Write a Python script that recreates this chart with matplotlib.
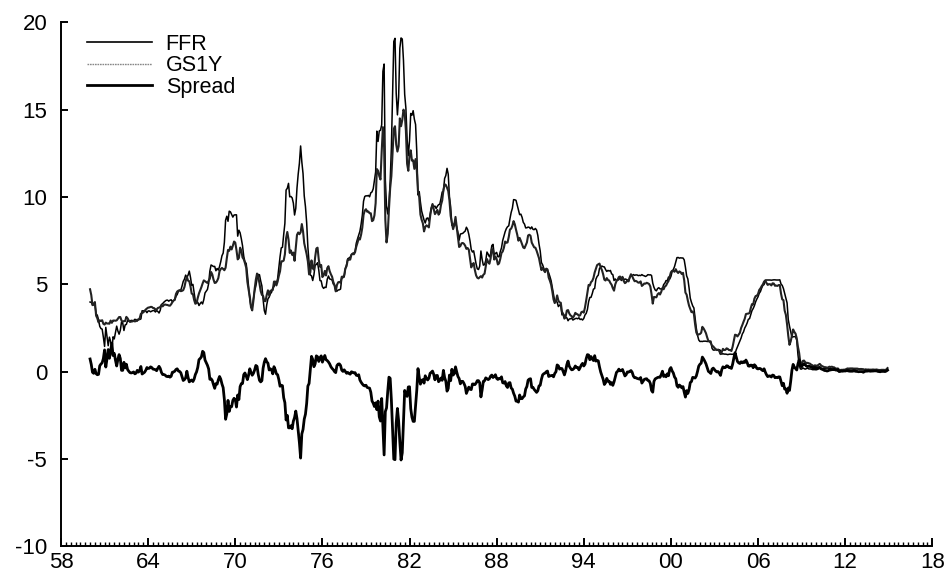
import numpy as np
import matplotlib
matplotlib.use('Agg')
import matplotlib.pyplot as plt
from matplotlib.lines import Line2D
from matplotlib.ticker import MultipleLocator

plt.rcParams['font.family'] = ['Liberation Sans', 'DejaVu Sans']
plt.rcParams['axes.unicode_minus'] = False

# monthly data, 1960:01 - 2014:12 (one row per year)
ffr = [
    3.99, 3.97, 3.84, 3.92, 3.85, 3.32, 3.23, 2.98, 2.60, 2.47, 2.44, 1.98,
    1.45, 2.54, 2.02, 1.49, 1.98, 1.73, 1.17, 2.00, 1.88, 2.26, 2.61, 2.33,
    2.15, 2.37, 2.85, 2.78, 2.36, 2.68, 2.71, 2.93, 2.90, 2.90, 2.94, 2.93,
    2.92, 3.00, 2.98, 2.90, 3.00, 2.99, 3.02, 3.49, 3.48, 3.50, 3.48, 3.38,
    3.48, 3.48, 3.43, 3.47, 3.50, 3.50, 3.42, 3.50, 3.45, 3.36, 3.52, 3.85,
    3.90, 3.98, 4.04, 4.09, 4.10, 4.04, 4.09, 4.12, 4.01, 4.08, 4.10, 4.32,
    4.42, 4.60, 4.65, 4.67, 4.90, 5.17, 5.30, 5.53, 5.40, 5.53, 5.76, 5.40,
    4.94, 5.00, 4.53, 4.05, 3.94, 3.98, 3.79, 3.90, 3.99, 3.88, 4.13, 4.51,
    4.61, 4.71, 5.05, 5.76, 6.11, 6.07, 6.02, 6.03, 5.78, 5.91, 5.82, 6.02,
    6.30, 6.64, 6.79, 7.41, 8.67, 8.90, 8.61, 9.19, 9.15, 9.00, 8.85, 8.97,
    8.98, 8.98, 7.76, 8.10, 7.95, 7.61, 7.21, 6.61, 6.29, 6.20, 5.60, 4.90,
    4.14, 3.72, 3.71, 4.16, 4.63, 4.91, 5.31, 5.57, 5.55, 5.20, 4.91, 4.14,
    3.50, 3.29, 3.83, 4.17, 4.27, 4.46, 4.55, 4.80, 4.87, 5.04, 5.06, 5.33,
    5.94, 6.58, 7.09, 7.12, 7.84, 8.49, 10.40, 10.50, 10.78, 10.01, 10.03, 9.95,
    9.65, 8.97, 9.35, 10.51, 11.31, 11.93, 12.92, 12.01, 11.34, 10.06, 9.45, 8.53,
    7.13, 6.24, 5.54, 5.49, 5.22, 5.55, 6.10, 6.14, 6.24, 5.82, 5.22, 5.20,
    4.87, 4.77, 4.84, 4.82, 5.29, 5.48, 5.31, 5.29, 5.25, 5.02, 4.95, 4.65,
    4.61, 4.68, 4.69, 4.73, 5.35, 5.39, 5.42, 5.90, 6.14, 6.47, 6.51, 6.56,
    6.70, 6.78, 6.79, 6.89, 7.36, 7.60, 7.81, 8.04, 8.45, 8.96, 9.76, 10.03,
    10.07, 10.06, 10.09, 10.01, 10.24, 10.29, 10.47, 10.94, 11.43, 13.77, 13.18, 13.78,
    13.82, 14.13, 17.19, 17.61, 10.98, 9.47, 9.03, 9.61, 10.87, 12.81, 15.85, 18.90,
    19.08, 15.93, 14.70, 15.72, 18.52, 19.10, 19.04, 17.82, 15.87, 15.08, 13.31, 12.37,
    13.22, 14.78, 14.68, 14.94, 14.45, 14.15, 12.59, 10.12, 10.31, 9.71, 9.20, 8.95,
    8.68, 8.51, 8.77, 8.80, 8.63, 8.98, 9.37, 9.56, 9.45, 9.48, 9.34, 9.47,
    9.56, 9.59, 9.91, 10.29, 10.32, 11.06, 11.23, 11.64, 11.30, 9.99, 9.43, 8.38,
    8.35, 8.50, 8.58, 8.27, 7.97, 7.53, 7.88, 7.90, 7.92, 7.99, 8.05, 8.27,
    8.14, 7.86, 7.48, 6.99, 6.85, 6.92, 6.56, 6.17, 5.89, 5.85, 6.04, 6.91,
    6.43, 6.10, 6.13, 6.37, 6.85, 6.73, 6.58, 6.73, 7.22, 7.29, 6.69, 6.77,
    6.83, 6.58, 6.58, 6.87, 7.09, 7.51, 7.75, 8.01, 8.19, 8.30, 8.35, 8.76,
    9.12, 9.36, 9.85, 9.84, 9.81, 9.53, 9.24, 8.99, 9.02, 8.84, 8.55, 8.45,
    8.23, 8.24, 8.28, 8.26, 8.18, 8.29, 8.15, 8.13, 8.20, 8.11, 7.81, 7.31,
    6.91, 6.25, 6.12, 5.91, 5.78, 5.90, 5.82, 5.66, 5.45, 5.21, 4.81, 4.43,
    4.03, 4.06, 3.98, 3.73, 3.82, 3.76, 3.25, 3.30, 3.22, 3.10, 3.09, 2.92,
    3.02, 3.03, 3.07, 2.96, 3.00, 3.04, 3.06, 3.03, 3.09, 2.99, 3.02, 2.96,
    3.05, 3.25, 3.34, 3.56, 4.01, 4.25, 4.26, 4.47, 4.73, 4.76, 5.29, 5.45,
    5.53, 5.92, 5.98, 6.05, 6.01, 6.00, 5.85, 5.74, 5.80, 5.76, 5.80, 5.60,
    5.56, 5.22, 5.31, 5.22, 5.24, 5.27, 5.40, 5.22, 5.30, 5.24, 5.31, 5.29,
    5.25, 5.19, 5.39, 5.51, 5.50, 5.56, 5.52, 5.54, 5.54, 5.50, 5.52, 5.50,
    5.56, 5.51, 5.49, 5.45, 5.49, 5.56, 5.54, 5.55, 5.51, 5.07, 4.83, 4.68,
    4.63, 4.76, 4.81, 4.74, 4.74, 4.76, 4.99, 5.07, 5.22, 5.20, 5.42, 5.30,
    5.45, 5.73, 5.85, 6.02, 6.27, 6.53, 6.54, 6.50, 6.52, 6.51, 6.51, 6.40,
    5.98, 5.49, 5.31, 4.80, 4.21, 3.97, 3.77, 3.65, 3.07, 2.49, 2.09, 1.82,
    1.73, 1.74, 1.73, 1.75, 1.75, 1.75, 1.73, 1.74, 1.75, 1.75, 1.34, 1.24,
    1.24, 1.26, 1.25, 1.26, 1.26, 1.22, 1.01, 1.03, 1.01, 1.01, 1.00, 0.98,
    1.00, 1.01, 1.00, 1.00, 1.00, 1.03, 1.26, 1.43, 1.61, 1.76, 1.93, 2.16,
    2.28, 2.50, 2.63, 2.79, 3.00, 3.04, 3.26, 3.50, 3.62, 3.78, 4.00, 4.16,
    4.29, 4.49, 4.59, 4.79, 4.94, 4.99, 5.24, 5.25, 5.25, 5.25, 5.25, 5.24,
    5.25, 5.26, 5.26, 5.25, 5.25, 5.25, 5.26, 5.02, 4.94, 4.76, 4.49, 4.24,
    3.94, 2.98, 2.61, 2.28, 1.98, 2.00, 2.01, 2.00, 1.81, 0.97, 0.39, 0.16,
    0.15, 0.22, 0.18, 0.15, 0.18, 0.21, 0.16, 0.16, 0.15, 0.12, 0.12, 0.12,
    0.11, 0.13, 0.16, 0.20, 0.20, 0.18, 0.18, 0.19, 0.19, 0.19, 0.19, 0.18,
    0.17, 0.16, 0.14, 0.10, 0.09, 0.09, 0.07, 0.10, 0.08, 0.07, 0.08, 0.07,
    0.08, 0.10, 0.13, 0.14, 0.16, 0.16, 0.16, 0.13, 0.14, 0.16, 0.16, 0.16,
    0.14, 0.15, 0.14, 0.15, 0.11, 0.09, 0.09, 0.08, 0.08, 0.09, 0.08, 0.09,
    0.07, 0.07, 0.08, 0.09, 0.09, 0.10, 0.09, 0.09, 0.09, 0.09, 0.09, 0.12,
]

gs1y = [
    4.72, 4.39, 3.81, 3.83, 3.99, 3.21, 3.06, 2.83, 2.94, 2.91, 2.95, 2.74,
    2.70, 2.81, 2.76, 2.76, 2.75, 2.93, 2.80, 2.93, 2.93, 2.92, 2.94, 3.04,
    3.13, 3.13, 2.93, 2.86, 2.90, 2.90, 3.14, 3.06, 2.93, 2.85, 2.87, 2.88,
    2.91, 2.88, 2.90, 2.98, 2.98, 3.06, 3.32, 3.36, 3.40, 3.47, 3.56, 3.62,
    3.67, 3.68, 3.71, 3.71, 3.65, 3.64, 3.54, 3.56, 3.65, 3.67, 3.71, 3.81,
    3.74, 3.82, 3.85, 3.83, 3.82, 3.79, 3.78, 3.86, 3.98, 4.07, 4.13, 4.45,
    4.59, 4.64, 4.67, 4.61, 4.63, 4.67, 4.85, 5.18, 5.43, 5.21, 5.18, 4.88,
    4.47, 4.44, 4.11, 3.89, 3.93, 4.23, 4.48, 4.66, 4.84, 5.05, 5.23, 5.18,
    5.13, 5.08, 5.21, 5.33, 5.71, 5.57, 5.28, 5.08, 5.10, 5.20, 5.36, 5.75,
    5.88, 5.94, 5.88, 5.81, 5.95, 6.49, 6.97, 6.92, 7.16, 7.00, 7.21, 7.45,
    7.39, 6.96, 6.43, 6.51, 7.10, 6.93, 6.54, 6.44, 6.22, 5.96, 5.15, 4.70,
    4.31, 3.69, 3.51, 4.07, 4.73, 5.27, 5.62, 5.41, 5.06, 4.62, 4.40, 4.34,
    4.05, 4.04, 4.40, 4.66, 4.37, 4.63, 4.66, 4.68, 5.16, 5.16, 4.94, 5.16,
    5.49, 5.75, 6.32, 6.32, 6.36, 6.72, 7.64, 8.00, 7.57, 6.80, 6.94, 6.69,
    6.82, 6.35, 7.10, 7.83, 7.97, 7.87, 7.98, 8.45, 8.04, 7.35, 7.02, 6.72,
    6.31, 5.57, 5.68, 6.37, 5.93, 5.84, 6.55, 7.05, 7.10, 6.41, 6.01, 6.11,
    5.42, 5.51, 5.77, 5.51, 5.93, 6.04, 5.76, 5.58, 5.44, 5.14, 4.96, 4.60,
    4.96, 5.12, 5.14, 5.09, 5.44, 5.41, 5.53, 5.91, 6.05, 6.43, 6.41, 6.42,
    6.70, 6.75, 6.72, 6.84, 7.16, 7.38, 7.64, 7.57, 7.85, 8.26, 8.98, 9.22,
    9.30, 9.16, 9.17, 9.07, 9.07, 8.62, 8.67, 8.95, 9.65, 11.60, 11.50, 11.20,
    11.00, 12.60, 14.00, 12.85, 8.70, 7.40, 7.90, 9.30, 10.50, 11.20, 12.50, 13.90,
    14.05, 13.00, 12.60, 12.90, 14.50, 14.05, 14.40, 15.00, 14.80, 13.80, 11.90, 11.50,
    12.36, 12.67, 12.08, 12.10, 11.61, 12.17, 11.54, 10.30, 10.00, 9.00, 8.70, 8.50,
    8.03, 8.28, 8.38, 8.33, 8.26, 8.89, 9.34, 9.60, 9.30, 9.02, 9.12, 9.26,
    8.99, 9.10, 9.55, 9.80, 10.40, 10.73, 10.69, 10.53, 10.34, 9.80, 8.92, 8.52,
    8.16, 8.39, 8.86, 8.26, 7.70, 7.14, 7.19, 7.35, 7.37, 7.32, 7.21, 7.03,
    7.08, 6.98, 6.48, 5.97, 6.15, 6.22, 5.82, 5.52, 5.38, 5.34, 5.41, 5.47,
    5.39, 5.55, 5.61, 6.02, 6.45, 6.28, 6.18, 6.48, 7.03, 6.96, 6.42, 6.60,
    6.45, 6.14, 6.20, 6.46, 6.80, 6.88, 7.10, 7.45, 7.38, 7.40, 7.71, 8.14,
    8.19, 8.36, 8.62, 8.44, 8.13, 7.85, 7.50, 7.66, 7.49, 7.30, 7.11, 7.07,
    7.24, 7.40, 7.80, 7.84, 7.78, 7.39, 7.26, 7.12, 7.10, 6.93, 6.72, 6.50,
    6.14, 5.82, 5.94, 5.80, 5.70, 5.90, 5.86, 5.39, 5.21, 4.99, 4.60, 4.14,
    3.93, 4.06, 4.37, 4.07, 3.97, 3.95, 3.43, 3.31, 3.04, 3.15, 3.50, 3.53,
    3.34, 3.23, 3.18, 3.09, 3.20, 3.37, 3.31, 3.28, 3.20, 3.23, 3.41, 3.44,
    3.38, 3.68, 4.09, 4.54, 4.97, 4.94, 5.13, 5.20, 5.37, 5.68, 5.90, 6.10,
    6.15, 6.19, 5.96, 5.82, 5.58, 5.27, 5.22, 5.36, 5.25, 5.22, 5.08, 4.98,
    4.78, 4.64, 5.00, 5.18, 5.27, 5.42, 5.45, 5.29, 5.43, 5.19, 5.07, 5.12,
    5.24, 5.17, 5.41, 5.58, 5.47, 5.31, 5.18, 5.20, 5.16, 5.10, 5.10, 5.17,
    4.91, 4.97, 5.05, 5.04, 5.09, 5.06, 5.02, 4.88, 4.44, 3.90, 4.28, 4.27,
    4.26, 4.43, 4.50, 4.42, 4.57, 4.79, 4.72, 4.88, 4.93, 5.08, 5.19, 5.44,
    5.69, 5.78, 5.78, 5.72, 5.87, 5.73, 5.65, 5.74, 5.70, 5.59, 5.66, 5.23,
    4.53, 4.41, 4.07, 3.78, 3.59, 3.41, 3.45, 3.31, 2.71, 2.25, 2.11, 2.14,
    2.16, 2.23, 2.57, 2.48, 2.35, 2.20, 1.96, 1.76, 1.72, 1.65, 1.49, 1.45,
    1.36, 1.30, 1.24, 1.27, 1.18, 1.01, 1.12, 1.31, 1.24, 1.25, 1.34, 1.31,
    1.24, 1.24, 1.19, 1.43, 1.78, 2.12, 2.10, 2.02, 2.12, 2.23, 2.50, 2.67,
    2.86, 3.03, 3.30, 3.32, 3.33, 3.36, 3.64, 3.87, 3.85, 4.18, 4.33, 4.35,
    4.45, 4.68, 4.77, 4.90, 5.00, 5.16, 5.22, 5.08, 4.97, 5.01, 5.01, 4.94,
    5.06, 5.05, 4.92, 4.93, 4.91, 4.96, 4.96, 4.47, 4.14, 4.10, 3.50, 3.26,
    2.71, 2.05, 1.54, 1.74, 2.06, 2.42, 2.28, 2.18, 1.91, 1.42, 1.07, 0.49,
    0.44, 0.62, 0.64, 0.55, 0.50, 0.51, 0.48, 0.46, 0.40, 0.37, 0.31, 0.37,
    0.35, 0.35, 0.40, 0.45, 0.37, 0.32, 0.29, 0.26, 0.26, 0.23, 0.25, 0.29,
    0.27, 0.29, 0.26, 0.25, 0.19, 0.18, 0.19, 0.11, 0.10, 0.11, 0.11, 0.12,
    0.12, 0.16, 0.19, 0.18, 0.19, 0.19, 0.19, 0.18, 0.18, 0.18, 0.18, 0.16,
    0.15, 0.16, 0.15, 0.12, 0.12, 0.14, 0.12, 0.13, 0.12, 0.12, 0.12, 0.13,
    0.12, 0.12, 0.13, 0.11, 0.10, 0.10, 0.11, 0.11, 0.11, 0.10, 0.13, 0.21,
]

x_ticks = [1958, 1964, 1970, 1976, 1982, 1988, 1994, 2000, 2006, 2012, 2018]
x_labels = ['58', '64', '70', '76', '82', '88', '94', '00', '06', '12', '18']

ffr = np.array(ffr)
gs1y = np.array(gs1y)
spread = gs1y - ffr
t = 1960 + np.arange(len(ffr)) / 12.0

fig = plt.figure(figsize=(9.46, 5.78), dpi=100)
ax = fig.add_axes([0.0645, 0.0545, 0.921, 0.907])

ax.plot(t, ffr, color='black', lw=1.1)
ax.plot(t, gs1y, color='#222222', lw=1.5)
ax.plot(t, spread, color='black', lw=2.0)

ax.set_xlim(1958, 2018)
ax.set_ylim(-10, 20)
ax.set_xticks(x_ticks)
ax.set_xticklabels(x_labels)
ax.xaxis.set_minor_locator(MultipleLocator(1 / 3))
ax.set_yticks([-10, -5, 0, 5, 10, 15, 20])

for s in ['top', 'right']:
    ax.spines[s].set_visible(False)
for s in ['left', 'bottom']:
    ax.spines[s].set_linewidth(1.4)

ax.tick_params(axis='both', which='major', direction='in', labelsize=16, width=1.4)
ax.tick_params(axis='y', which='major', length=5, pad=10)
ax.tick_params(axis='x', which='major', length=6, pad=4)
ax.tick_params(axis='x', which='minor', direction='in', length=3, width=1.0)

# legend keys as they appear in the key box
handles = [
    Line2D([], [], color='black', lw=1.2),
    Line2D([], [], color='#888888', lw=1.0, ls=(0, (1.2, 0.6))),
    Line2D([], [], color='black', lw=2.0),
]
ax.legend(handles, ['FFR', 'GS1Y', 'Spread'], loc='upper left',
          bbox_to_anchor=(0.020, 0.994), frameon=False, fontsize=15.5,
          handlelength=3.0, handletextpad=0.65, labelspacing=0.02,
          borderaxespad=0)

plt.savefig('out.png', dpi=100)
